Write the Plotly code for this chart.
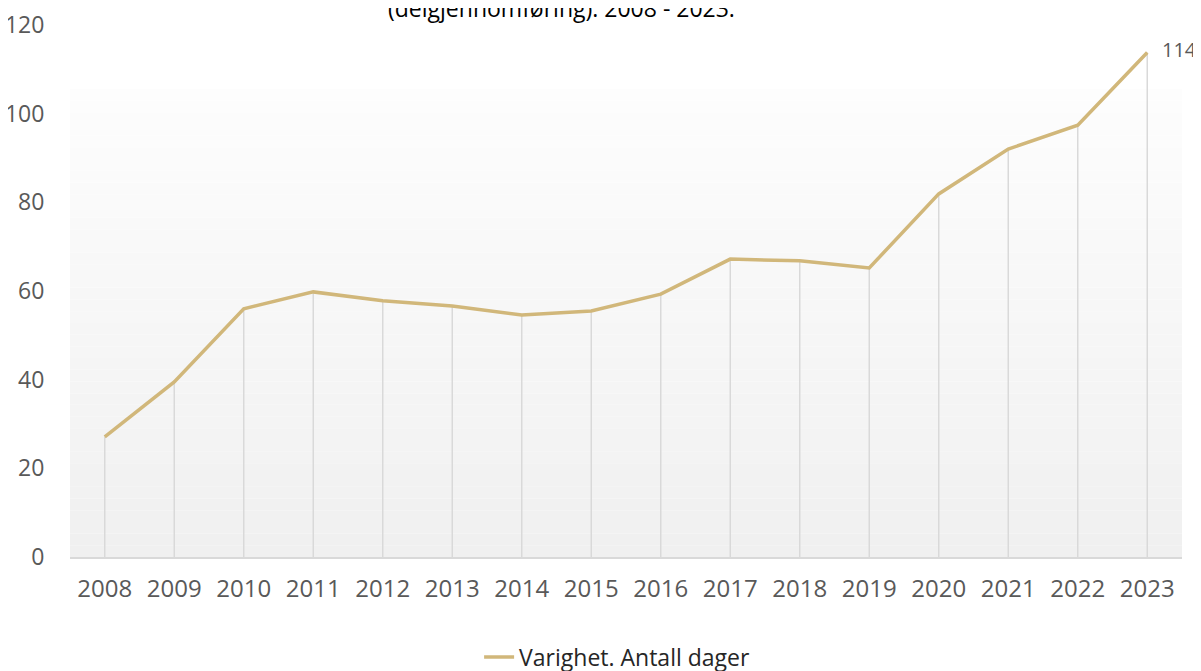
import plotly.graph_objects as go

years = ["2008", "2009", "2010", "2011", "2012", "2013", "2014", "2015",
         "2016", "2017", "2018", "2019", "2020", "2021", "2022", "2023"]
days = [27.1, 39.5, 56.0, 59.8, 57.8, 56.6, 54.6, 55.5,
        59.3, 67.2, 66.8, 65.2, 81.9, 92.0, 97.4, 113.8]
series_name = "Varighet. Antall dager"
title_text = "(delgjennomføring). 2008 - 2023."
last_label = "114"
y_ticks = [0, 20, 40, 60, 80, 100, 120]

FONT = "Open Sans"
LINE_COLOR = "#d1b77a"
GRID_COLOR = "#d9d9d9"
TICK_COLOR = "#595959"

fig = go.Figure()

# drop lines from each point to the axis
fig.add_trace(go.Scatter(
    x=years, y=days, mode="markers",
    marker=dict(size=1, color="rgba(0,0,0,0)"),
    error_y=dict(type="data", symmetric=False, array=[0] * len(days),
                 arrayminus=days, width=0, thickness=1.5, color=GRID_COLOR),
    showlegend=False, hoverinfo="skip",
))

fig.add_trace(go.Scatter(
    x=years, y=days, mode="lines", name=series_name,
    line=dict(color=LINE_COLOR, width=3.5),
))

# label on the last point
fig.add_trace(go.Scatter(
    x=[years[-1]], y=[days[-1]], mode="markers+text",
    text=[last_label], textposition="middle right",
    textfont=dict(size=20, color=TICK_COLOR, family=FONT),
    marker=dict(size=22, color="rgba(0,0,0,0)"),
    cliponaxis=False, showlegend=False, hoverinfo="skip",
))

# gradient background for plot area
shapes = []
n_bands = 40
top = 0.88
for i in range(n_bands):
    y0 = top * i / n_bands
    y1 = top * (i + 1) / n_bands
    t = i / (n_bands - 1)
    c = int(round(240 + (253 - 240) * t))
    shapes.append(dict(type="rect", xref="paper", yref="paper",
                       x0=0, x1=1, y0=y0, y1=y1, layer="below",
                       line=dict(width=0), fillcolor=f"rgb({c},{c},{c})"))

fig.update_layout(
    width=1201, height=671,
    margin=dict(l=62, r=27, t=17, b=122, autoexpand=False),
    paper_bgcolor="white", plot_bgcolor="rgba(0,0,0,0)",
    shapes=shapes,
    font=dict(family=FONT, color=TICK_COLOR, size=22),
    showlegend=True,
    legend=dict(orientation="h", x=0.492, xanchor="center", y=-0.188,
                yanchor="middle", font=dict(size=23, color="#262626"),
                bgcolor="rgba(0,0,0,0)"),
    xaxis=dict(type="category", range=[-0.5, len(years) - 0.5], automargin=False,
               showgrid=False, showline=True, linecolor=GRID_COLOR, linewidth=1.5,
               ticks="outside", ticklen=9, tickcolor="rgba(0,0,0,0)",
               tickfont=dict(size=24, color=TICK_COLOR), zeroline=False),
    yaxis=dict(range=[0, 120], tickvals=y_ticks, showgrid=False, zeroline=False,
               automargin=False,
               showline=False, ticks="outside", ticklen=20,
               tickcolor="rgba(0,0,0,0)",
               tickfont=dict(size=23, color=TICK_COLOR)),
    annotations=[
        dict(text=title_text, xref="paper", yref="paper", x=0.442, y=1.032,
             xanchor="center", yanchor="middle", showarrow=False,
             font=dict(size=23, color="#000000", family=FONT)),
    ],
)

fig.write_html("out.html")
